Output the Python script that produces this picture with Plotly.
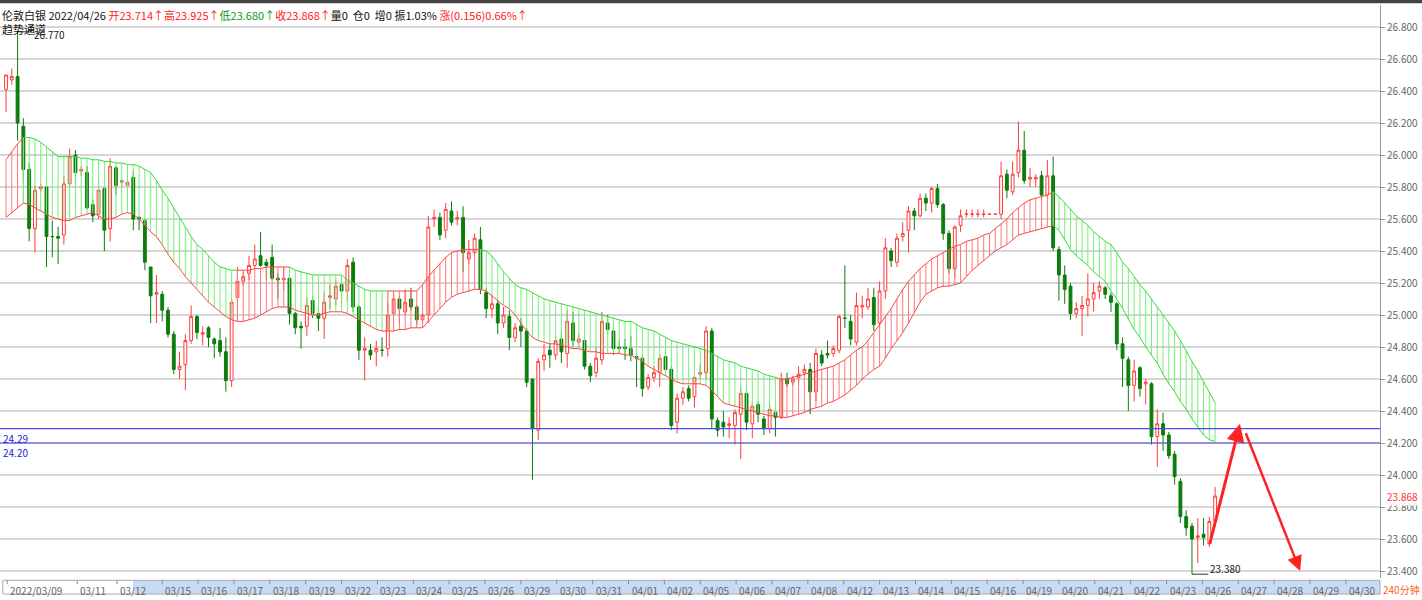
import plotly.graph_objects as go

# ---------------- data ----------------
opens = [26.41,26.47,26.49,26.18,25.91,25.54,25.79,25.80,25.49,25.49,25.50,25.82,26.00,25.90,25.89,25.69,25.63,25.79,25.54,25.92,
 25.83,25.81,25.86,25.61,25.59,25.30,25.13,25.13,25.03,24.88,24.66,24.69,24.84,24.99,24.88,24.92,24.85,24.84,24.77,24.59,
 25.11,25.21,25.26,25.31,25.37,25.33,25.36,25.23,25.22,25.23,25.01,24.93,24.93,25.09,25.01,24.98,25.11,25.10,25.19,25.15,
 25.33,25.05,24.78,24.78,24.77,24.78,24.79,25.01,25.10,25.02,25.10,25.05,24.97,25.00,25.60,25.61,25.53,25.65,25.60,25.61,
 25.35,25.39,25.47,25.14,25.04,25.07,24.95,24.99,24.86,24.93,24.90,24.60,24.28,24.72,24.78,24.75,24.85,24.76,24.95,24.83,
 24.84,24.68,24.64,24.72,24.95,24.90,24.80,24.80,24.79,24.74,24.73,24.55,24.61,24.64,24.74,24.66,24.33,24.48,24.54,24.49,
 24.63,24.64,24.90,24.34,24.33,24.31,24.31,24.38,24.51,24.32,24.44,24.35,24.29,24.39,24.36,24.60,24.58,24.61,24.64,24.66,
 24.52,24.75,24.76,24.76,24.78,24.98,24.96,24.83,25.05,25.05,25.11,24.95,25.15,25.40,25.33,25.49,25.53,25.65,25.62,25.73,
 25.70,25.79,25.69,25.51,25.29,25.56,25.63,25.63,25.63,25.63,25.63,25.63,25.63,25.88,25.77,25.89,26.03,25.85,25.85,25.87,
 25.75,25.87,25.41,25.25,25.18,25.01,25.04,25.06,25.10,25.15,25.17,25.12,25.07,24.82,24.72,24.56,24.67,24.57,24.57,24.24,
 24.32,24.25,24.13,23.96,23.74,23.68,23.61,23.63,23.57,23.714]
highs = [26.50,26.54,26.77,26.23,25.95,25.81,25.82,25.80,25.59,25.55,25.87,26.04,26.03,25.93,25.93,25.72,25.85,25.80,25.98,25.93,
 25.84,25.88,25.90,25.62,25.60,25.30,25.25,25.15,25.05,24.90,24.77,24.88,25.06,25.00,24.93,24.93,24.86,24.92,24.86,25.10,
 25.30,25.27,25.37,25.44,25.52,25.35,25.44,25.26,25.30,25.24,25.02,24.96,25.11,25.12,25.03,25.14,25.19,25.22,25.22,25.35,
 25.36,25.06,24.86,24.82,24.84,24.86,25.07,25.13,25.12,25.16,25.17,25.06,25.02,25.62,25.66,25.64,25.70,25.71,25.65,25.68,
 25.47,25.51,25.55,25.17,25.12,25.09,25.05,25.03,24.95,24.98,24.92,24.60,24.73,24.82,24.82,24.87,24.90,25.03,25.02,24.88,
 24.86,24.70,24.80,25.02,25.00,24.92,24.84,24.85,24.87,24.76,24.75,24.63,24.68,24.75,24.75,24.68,24.51,24.55,24.56,24.63,
 24.69,24.93,24.92,24.36,24.40,24.36,24.41,24.55,24.52,24.46,24.46,24.37,24.44,24.41,24.64,24.64,24.62,24.68,24.69,24.70,
 24.79,24.78,24.84,24.81,25.00,25.31,25.00,25.14,25.12,25.17,25.17,25.21,25.48,25.42,25.51,25.58,25.68,25.67,25.76,25.76,
 25.80,25.82,25.70,25.53,25.56,25.66,25.66,25.66,25.66,25.66,25.63,25.63,25.96,25.91,25.96,26.21,26.15,25.92,25.88,25.90,
 25.97,25.99,25.43,25.31,25.20,25.08,25.12,25.26,25.20,25.21,25.18,25.14,25.08,24.86,24.74,24.72,24.68,24.60,24.58,24.41,
 24.39,24.27,24.15,23.98,23.78,23.70,23.73,23.73,23.74,23.925]
lows = [26.27,26.44,26.09,25.83,25.46,25.39,25.77,25.30,25.36,25.32,25.44,25.80,25.80,25.87,25.66,25.58,25.60,25.40,25.46,25.75,
 25.80,25.79,25.53,25.53,25.28,24.95,24.95,24.96,24.86,24.63,24.60,24.53,24.82,24.85,24.81,24.80,24.73,24.74,24.52,24.55,
 25.06,25.18,25.22,25.29,25.30,25.22,25.22,25.10,25.15,24.94,24.88,24.79,24.87,24.98,24.90,24.85,25.04,25.06,25.07,25.08,
 25.02,24.72,24.59,24.72,24.68,24.74,24.74,24.99,24.95,25.00,25.03,24.94,24.94,24.95,25.55,25.47,25.48,25.56,25.56,25.27,
 25.32,25.36,25.13,24.98,24.98,24.88,24.92,24.78,24.83,24.80,24.55,23.97,24.22,24.65,24.67,24.72,24.70,24.67,24.80,24.80,
 24.66,24.58,24.61,24.69,24.88,24.75,24.76,24.72,24.71,24.55,24.49,24.53,24.58,24.55,24.62,24.28,24.26,24.44,24.46,24.42,
 24.60,24.60,24.29,24.24,24.24,24.23,24.19,24.10,24.28,24.23,24.33,24.25,24.26,24.24,24.35,24.55,24.56,24.56,24.62,24.38,
 24.46,24.68,24.73,24.74,24.76,24.92,24.81,24.81,24.98,25.03,24.90,24.92,25.10,25.30,25.30,25.46,25.39,25.53,25.61,25.65,
 25.64,25.67,25.47,25.26,25.23,25.52,25.61,25.61,25.61,25.61,25.63,25.63,25.60,25.73,25.75,25.86,25.82,25.80,25.80,25.72,
 25.73,25.40,25.09,25.07,24.97,24.98,24.87,24.99,25.02,25.10,25.10,25.02,24.78,24.55,24.40,24.46,24.49,24.44,24.19,24.05,
 24.15,24.10,23.94,23.70,23.62,23.38,23.45,23.56,23.55,23.680]
closes = [26.50,26.49,26.20,25.91,25.54,25.78,25.80,25.49,25.49,25.48,25.82,25.99,25.89,25.91,25.67,25.62,25.78,25.53,25.93,25.81,
 25.84,25.83,25.60,25.60,25.33,25.12,25.14,25.03,24.88,24.66,24.68,24.84,24.99,24.89,24.89,24.86,24.82,24.77,24.59,25.08,
 25.21,25.24,25.31,25.35,25.31,25.31,25.23,25.22,25.23,25.01,24.92,24.92,25.06,25.01,24.98,25.08,25.12,25.18,25.15,25.31,
 25.05,24.78,24.79,24.75,24.79,24.78,25.00,25.10,25.04,25.08,25.05,24.97,25.00,25.55,25.61,25.50,25.66,25.58,25.61,25.39,
 25.39,25.48,25.16,25.04,25.07,24.95,25.00,24.86,24.92,24.90,24.58,24.29,24.71,24.75,24.75,24.84,24.77,24.96,24.84,24.85,
 24.68,24.62,24.73,24.96,24.91,24.79,24.79,24.79,24.75,24.73,24.54,24.61,24.64,24.73,24.66,24.31,24.48,24.52,24.48,24.61,
 24.64,24.90,24.35,24.28,24.30,24.32,24.39,24.51,24.33,24.43,24.38,24.29,24.41,24.36,24.60,24.57,24.60,24.63,24.66,24.52,
 24.76,24.70,24.75,24.79,24.99,24.98,24.85,25.06,25.06,25.10,24.94,25.15,25.42,25.34,25.48,25.51,25.65,25.62,25.73,25.70,
 25.79,25.69,25.51,25.29,25.55,25.62,25.63,25.63,25.63,25.63,25.63,25.63,25.87,25.78,25.88,26.03,25.84,25.86,25.86,25.75,
 25.87,25.42,25.25,25.16,25.01,25.04,25.06,25.10,25.14,25.18,25.13,25.08,24.82,24.73,24.56,24.65,24.54,24.58,24.24,24.32,
 24.25,24.12,23.99,23.74,23.67,23.60,23.62,23.61,23.71,23.868]

chan_upper = [25.97,26.02,26.07,26.11,26.11,26.10,26.08,26.05,26.02,25.99,25.99,25.99,25.99,25.98,25.98,25.97,25.97,25.96,25.96,25.95,
 25.95,25.94,25.94,25.93,25.91,25.89,25.84,25.78,25.73,25.67,25.61,25.55,25.49,25.44,25.41,25.37,25.33,25.30,25.29,25.28,
 25.28,25.28,25.28,25.29,25.29,25.30,25.30,25.30,25.30,25.30,25.28,25.27,25.26,25.25,25.25,25.25,25.25,25.25,25.25,25.22,
 25.20,25.18,25.16,25.15,25.15,25.15,25.15,25.15,25.15,25.15,25.15,25.15,25.19,25.24,25.28,25.32,25.36,25.39,25.40,25.41,
 25.41,25.41,25.41,25.40,25.37,25.32,25.27,25.23,25.19,25.17,25.16,25.14,25.12,25.10,25.09,25.08,25.07,25.06,25.05,25.04,
 25.03,25.02,25.01,25.00,24.99,24.98,24.97,24.96,24.96,24.94,24.92,24.91,24.90,24.88,24.86,24.84,24.83,24.82,24.81,24.80,
 24.79,24.78,24.76,24.74,24.72,24.71,24.70,24.68,24.67,24.66,24.65,24.63,24.62,24.61,24.60,24.60,24.61,24.62,24.63,24.64,
 24.65,24.66,24.67,24.68,24.70,24.72,24.75,24.78,24.80,24.84,24.89,24.94,24.99,25.04,25.10,25.16,25.21,25.25,25.29,25.32,
 25.35,25.37,25.39,25.41,25.43,25.44,25.46,25.47,25.48,25.50,25.51,25.54,25.57,25.60,25.64,25.67,25.70,25.72,25.73,25.74,
 25.75,25.77,25.74,25.70,25.66,25.62,25.59,25.56,25.52,25.49,25.46,25.44,25.39,25.33,25.29,25.24,25.19,25.15,25.10,25.05,
 25.00,24.95,24.90,24.84,24.77,24.71,24.65,24.58,24.51,24.45]
chan_lower = [25.61,25.64,25.67,25.70,25.69,25.67,25.65,25.63,25.61,25.60,25.59,25.59,25.61,25.62,25.63,25.64,25.62,25.60,25.60,25.61,
 25.63,25.64,25.63,25.60,25.56,25.52,25.49,25.44,25.38,25.33,25.29,25.24,25.20,25.16,25.12,25.08,25.05,25.02,24.99,24.97,
 24.96,24.96,24.97,24.98,25.00,25.02,25.04,25.05,25.05,25.05,25.03,25.02,25.01,25.00,25.00,25.01,25.02,25.02,25.02,25.01,
 24.99,24.97,24.95,24.93,24.91,24.90,24.90,24.90,24.91,24.91,24.92,24.92,24.92,24.96,25.00,25.04,25.08,25.11,25.13,25.14,
 25.15,25.16,25.16,25.15,25.12,25.09,25.06,25.04,25.00,24.95,24.90,24.86,24.84,24.83,24.82,24.82,24.81,24.80,24.79,24.79,
 24.78,24.77,24.77,24.76,24.76,24.76,24.76,24.75,24.75,24.73,24.71,24.68,24.66,24.64,24.62,24.60,24.58,24.57,24.57,24.57,
 24.57,24.56,24.53,24.49,24.45,24.44,24.43,24.42,24.41,24.40,24.39,24.38,24.37,24.37,24.36,24.36,24.37,24.38,24.39,24.41,
 24.42,24.43,24.45,24.46,24.48,24.50,24.53,24.56,24.60,24.63,24.66,24.68,24.73,24.79,24.84,24.89,24.95,25.02,25.08,25.13,
 25.15,25.17,25.18,25.18,25.19,25.20,25.24,25.28,25.31,25.34,25.37,25.40,25.42,25.44,25.47,25.50,25.51,25.52,25.53,25.54,
 25.55,25.56,25.53,25.47,25.41,25.37,25.34,25.31,25.27,25.24,25.21,25.15,25.10,25.04,24.97,24.91,24.86,24.80,24.75,24.70,
 24.63,24.57,24.52,24.46,24.41,24.35,24.30,24.25,24.22,24.21]
zone_starts = [0, 3, 40, 49, 66, 82, 134, 181]
zone_ends = [3, 40, 49, 66, 82, 134, 181, 209]
zone_colors = ["red", "green", "red", "green", "red", "green", "red", "green"]

date_labels = ["2022/03/09", "03/11", "03/12", "03/15", "03/16", "03/17", "03/18", "03/19", "03/22", "03/23", "03/24",
               "03/25", "03/26", "03/29", "03/30", "03/31", "04/01", "04/02", "04/05", "04/06", "04/07", "04/08",
               "04/12", "04/13", "04/14", "04/15", "04/16", "04/19", "04/20", "04/21", "04/22", "04/23", "04/26",
               "04/27", "04/28", "04/29", "04/30"]
date_pos = [0.2, 12.3, 19.2] + [27.0 + 6.2 * k for k in range(34)]

support_levels = [24.29, 24.20]
high_mark = (2, 26.770)
low_mark = (205, 23.380)
last_price = 23.868
arrow_up = (208, 23.56, 213.3, 24.32)
arrow_down = (214.2, 24.27, 223.7, 23.40)

# ---------------- figure ----------------
xs = list(range(len(closes)))
GREEN_LINE = "#33dd33"
GREEN_HATCH = "#77ee77"
RED_LINE = "#ff4444"
RED_HATCH = "#ff7777"

fig = go.Figure()
for s, e, c in zip(zone_starts, zone_ends, zone_colors):
    hx, hy = [], []
    for i in range(s, e + 1):
        hx += [i, i, None]
        hy += [chan_lower[i], chan_upper[i], None]
    hatch = GREEN_HATCH if c == "green" else RED_HATCH
    line = GREEN_LINE if c == "green" else RED_LINE
    fig.add_trace(go.Scatter(x=hx, y=hy, mode="lines", line=dict(color=hatch, width=1), hoverinfo="skip"))
    seg = list(range(s, e + 1))
    fig.add_trace(go.Scatter(x=seg, y=[chan_upper[i] for i in seg], mode="lines",
                             line=dict(color=line, width=1), hoverinfo="skip"))
    lower_col = RED_LINE if c == "red" or s < 150 else GREEN_LINE
    fig.add_trace(go.Scatter(x=seg, y=[chan_lower[i] for i in seg], mode="lines",
                             line=dict(color=lower_col, width=1), hoverinfo="skip"))

fig.add_trace(go.Candlestick(
    x=xs, open=opens, high=highs, low=lows, close=closes,
    increasing=dict(line=dict(color="#ff3b3b", width=1), fillcolor="white"),
    decreasing=dict(line=dict(color="#0b7d0b", width=1), fillcolor="#0b7d0b"),
    whiskerwidth=0, hoverinfo="skip"))

for lv in support_levels:
    fig.add_hline(y=lv, line=dict(color="#4a4ae8", width=1.2))
    fig.add_annotation(x=0, xref="paper", y=lv, yanchor="top", xanchor="left", text=f"{lv:.2f}",
                       showarrow=False, font=dict(size=10, color="#2222dd"), xshift=1)

hx_, hv = high_mark
fig.add_shape(type="line", x0=hx_, x1=hx_ + 2.5, y0=hv, y1=hv, line=dict(color="#333", width=1))
fig.add_annotation(x=hx_ + 2.5, y=hv, text=f"{hv:.3f}", showarrow=False, xanchor="left",
                   font=dict(size=10, color="#222"), yshift=-3)
lx, lv2 = low_mark
fig.add_shape(type="line", x0=lx, x1=lx + 2.8, y0=lv2, y1=lv2, line=dict(color="#333", width=1))
fig.add_annotation(x=lx + 2.8, y=lv2, text=f"{lv2:.3f}", showarrow=False, xanchor="left", yanchor="bottom",
                   yshift=-4, font=dict(size=10, color="#222"))

for (x0, y0, x1, y1), w in [(arrow_up, 3), (arrow_down, 2.5)]:
    fig.add_annotation(x=x1, y=y1, ax=x0, ay=y0, xref="x", yref="y", axref="x", ayref="y",
                       showarrow=True, arrowhead=2, arrowsize=1.2, arrowwidth=w, arrowcolor="#ff2222", text="")

hdr = ("伦敦白银 2022/04/26 <span style='color:#ff2020'>开23.714↑高23.925↑</span>"
       "<span style='color:#119911'>低23.680↑</span><span style='color:#ff2020'>收23.868↑</span>"
       "量0  仓0  增0 振1.03% <span style='color:#ff2020'>涨(0.156)0.66%↑</span>")
fig.add_annotation(x=0, xref="paper", y=1, yref="paper", xanchor="left", yanchor="top", text=hdr,
                   showarrow=False, font=dict(size=11, color="#111"), yshift=0)
fig.add_annotation(x=0, xref="paper", y=1, yref="paper", xanchor="left", yanchor="top", text="趋势通道",
                   showarrow=False, font=dict(size=11, color="#111"), yshift=-14)

fig.add_annotation(x=1, xref="paper", y=last_price, xanchor="left", text=f"{last_price:.3f}", showarrow=False,
                   font=dict(size=10, color="#ff3030"), xshift=5, bgcolor="rgba(255,255,255,0.9)")

fig.add_shape(type="rect", xref="x", yref="paper", x0=21.95, x1=237.5, y0=-0.028, y1=-0.004,
              fillcolor="#c6dcf4", line=dict(width=0), layer="below")
fig.add_shape(type="rect", xref="paper", yref="paper", x0=0.002, x1=1, y0=-0.028, y1=-0.004,
              fillcolor="rgba(0,0,0,0)", line=dict(color="#aaa", width=1))
for lab, p in zip(date_labels, date_pos):
    fig.add_shape(type="line", xref="x", yref="paper", x0=p, x1=p, y0=-0.004, y1=-0.011,
                  line=dict(color="#888", width=1))
    fig.add_annotation(x=p, xref="x", y=-0.005, yref="paper", yanchor="top", xanchor="left", text=lab,
                       showarrow=False, font=dict(size=10, color="#666"), xshift=1)
fig.add_annotation(x=1, xref="paper", y=-0.004, yref="paper", yanchor="top", xanchor="left", text="240分钟",
                   showarrow=False, font=dict(size=10, color="#ff5a1a"), xshift=1)
fig.add_annotation(x=0, xref="paper", y=-0.03, yref="paper", yanchor="top", xanchor="left",
                   text="MACD(12,26,9) <span style='color:#3333cc'>DIF: 40.941↑</span> "
                        "<span style='color:#ff8800'>DEA: 38.493↓</span> MACD: 3.095↑ "
                        "<span style='color:#cc0000'>B:0</span> <span style='color:#008800'>BC:0</span> "
                        "<span style='color:#00cccc'>T:0</span> <span style='color:#ff00ff'>TC:0</span>",
                   showarrow=False, font=dict(size=10, color="#555"))
fig.add_shape(type="rect", xref="paper", yref="paper", x0=-0.01, x1=1.05, y0=1.003, y1=1.012,
              fillcolor="#444", line=dict(width=0))

fig.update_layout(
    width=1422, height=600, margin=dict(l=0, r=42, t=5, b=22),
    paper_bgcolor="white", plot_bgcolor="white", showlegend=False,
    font=dict(family="Noto Sans CJK SC, Noto Sans, sans-serif"),
    xaxis=dict(range=[-1.04, 237.5], showgrid=False, showticklabels=False, zeroline=False,
               rangeslider=dict(visible=False), fixedrange=True),
    yaxis=dict(range=[23.35625, 26.9375], side="right", dtick=0.2, tick0=23.4, tickformat=".3f",
               showgrid=True, gridcolor="#d6d6d6", gridwidth=1.5, ticks="outside", ticklen=4,
               tickcolor="#999", showline=True, linecolor="#999", mirror=False, zeroline=False,
               tickfont=dict(size=10, color="#666"), fixedrange=True),
)
fig.write_html("out.html", config={"displayModeBar": False})
with open("out.html", encoding="utf-8") as f:
    html = f.read()
html = html.replace("<head>", "<head><style>html,body{margin:0;padding:0;overflow:hidden}</style>", 1)
with open("out.html", "w", encoding="utf-8") as f:
    f.write(html)
